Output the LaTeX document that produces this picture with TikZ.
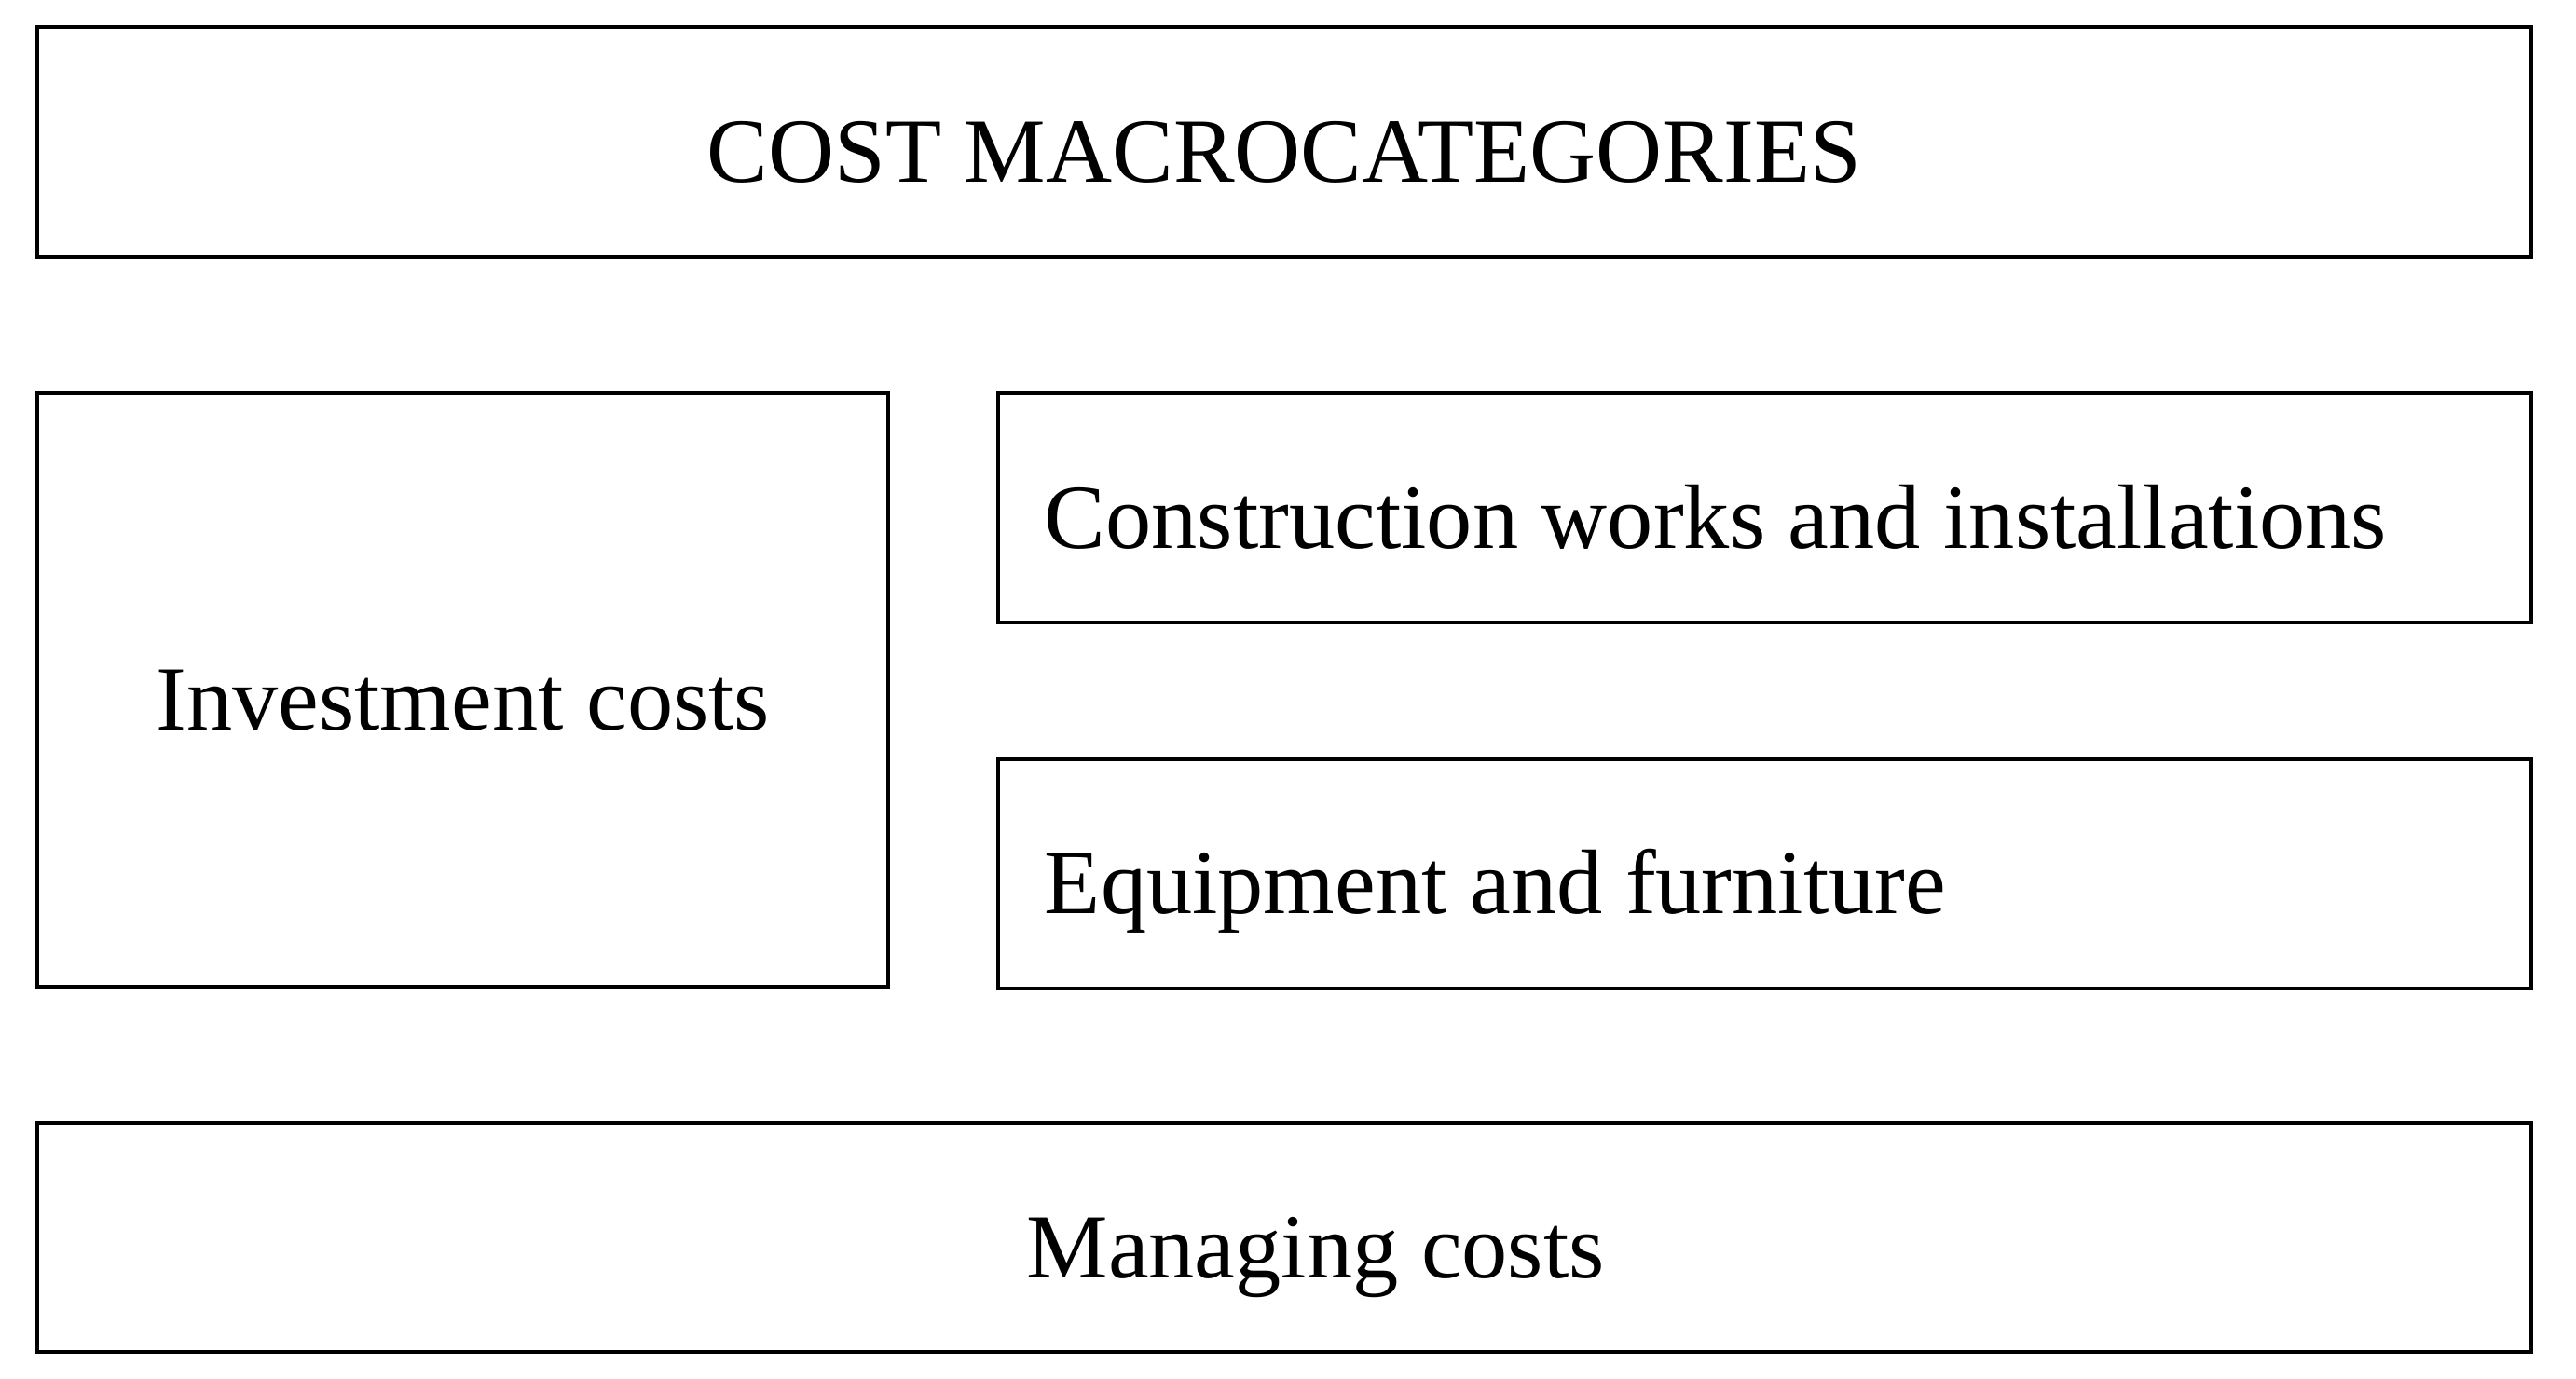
\documentclass[tikz,border=0pt]{standalone}
\usepackage{fontspec}
\setmainfont{Liberation Serif}
\usetikzlibrary{positioning}

\tikzstyle{b} = [rectangle, draw=black, line width=0.65pt, minimum height=1.39cm, text height=0.588cm, text depth=0.1cm, inner sep=0pt, font=\fontsize{15.8}{19}\selectfont]
\tikzstyle{wide} = [b, minimum width=15.1cm, text centered]
\tikzstyle{half} = [b, text width=8.72cm, inner xsep=0.28cm, align=flush left]

\begin{document}
\begin{tikzpicture}[node distance=0.803cm]
\useasboundingbox (0,0) rectangle (15.6,-8.35);

\node[wide, anchor=north west] (Macro) at (0.216,-0.154) {COST MACROCATEGORIES};

\node[b, minimum width=5.153cm, minimum height=3.598cm] (Invest) [below=of Macro.south west, anchor=north west] {Investment costs};
\node[half] (Works) [right=0.643cm of Invest.north east, anchor=north west] {Construction works and installations};
\node[half] (Equip) [below=of Works.south west, anchor=north west] {Equipment and furniture};

\node[wide] (Managing) [below=0.797cm of Invest.south west, anchor=north west] {\hspace*{0.38cm}Managing costs};

\end{tikzpicture}
\end{document}
